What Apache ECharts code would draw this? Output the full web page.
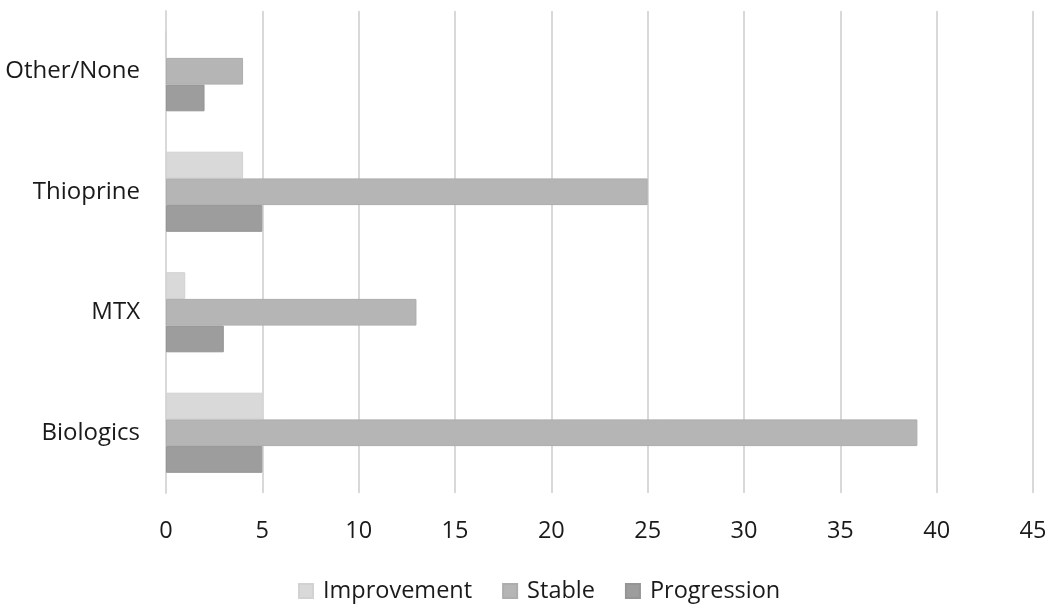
<!DOCTYPE html>
<html>
<head>
<meta charset="utf-8">
<script src="https://cdn.jsdelivr.net/npm/echarts@6/dist/echarts.min.js"></script>
<style>html,body{margin:0;padding:0;background:#fff}#c{width:1050px;height:611px}</style>
</head>
<body>
<div id="c"></div>
<script>
const categories = ['Biologics', 'MTX', 'Thioprine', 'Other/None'];
const improvement = [5, 1, 4, 0];
const stable = [39, 13, 25, 4];
const progression = [5, 3, 5, 2];
const xTicks = [0, 5, 10, 15, 20, 25, 30, 35, 40, 45];

const chart = echarts.init(document.getElementById('c'));
const font = '"Open Sans", "Noto Sans", sans-serif';
const barStyle = (c, b) => ({ color: c, borderColor: b, borderWidth: 1 });
chart.setOption({
  animation: false,
  textStyle: { fontFamily: font },
  grid: { left: 166, right: 17, top: 11, bottom: 118, containLabel: false },
  legend: {
    data: ['Improvement', 'Stable', 'Progression'],
    bottom: 3, left: 293,
    itemWidth: 14, itemHeight: 14, itemGap: 30,
    icon: 'rect',
    textStyle: { fontSize: 23.5, color: '#1a1a1a', fontFamily: font, padding: [0, 0, 0, 5] }
  },
  xAxis: {
    type: 'value', min: xTicks[0], max: xTicks[xTicks.length - 1], interval: 5,
    axisLine: { show: false }, axisTick: { show: false },
    axisLabel: { fontSize: 23.5, color: '#1a1a1a', margin: 26 },
    splitLine: { show: true, lineStyle: { color: '#d9d9d9', width: 2 } }
  },
  yAxis: {
    type: 'category', data: categories,
    axisLine: { show: true, lineStyle: { color: '#d9d9d9', width: 2 } },
    axisTick: { show: false },
    axisLabel: { fontSize: 24, color: '#1a1a1a', margin: 26 }
  },
  series: [
    { name: 'Improvement', type: 'bar', data: improvement, barWidth: 26.7, barGap: '0%', itemStyle: barStyle('#d9d9d9', '#d2d2d2') },
    { name: 'Stable', type: 'bar', data: stable, barWidth: 26.7, barGap: '0%', itemStyle: barStyle('#b5b5b5', '#adadad') },
    { name: 'Progression', type: 'bar', data: progression, barWidth: 26.7, barGap: '0%', itemStyle: barStyle('#9d9d9d', '#959595') }
  ]
});
</script>
</body>
</html>
